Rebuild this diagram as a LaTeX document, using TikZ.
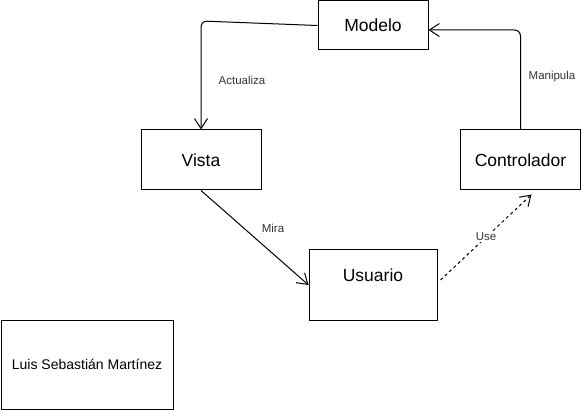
\documentclass[tikz,border=0pt]{standalone}
\usepackage{fontspec}
\setmainfont{Liberation Sans}
\usetikzlibrary{arrows.meta}

\tikzset{
  caja/.style={draw, line width=1pt, inner sep=0pt, font=\fontsize{17.5}{20}\selectfont},
  etiqueta/.style={font=\fontsize{11.5}{14}\selectfont, text=black!80, inner sep=1pt},
  flecha/.style={line width=1pt, rounded corners=6pt, -{Straight Barb[length=10pt,width=13pt]}},
}

\begin{document}
\begin{tikzpicture}[x=1pt,y=-1pt]
\useasboundingbox (0,0) rectangle (588,411);
\node[caja, minimum width=110pt, minimum height=49pt] (modelo) at (373,25.5) {Modelo};
\node[caja, minimum width=120pt, minimum height=60pt] (vista) at (201,160) {Vista};
\node[caja, minimum width=120pt, minimum height=60pt] (controlador) at (520.5,160) {Controlador};
\node[caja, minimum width=128pt, minimum height=70pt, text depth=20pt] (usuario) at (373,285) {Usuario};
\node[caja, minimum width=172pt, minimum height=89pt, font=\fontsize{14}{17}\selectfont] (autor) at (87,364.5) {Luis Sebastián Martínez};
\coordinate (esq1) at (201,21) ;
\coordinate (esq2) at (520.5,30) ;
\draw[flecha] (modelo.west) -- (esq1) -- (vista.north) ;
\node[etiqueta] (lactualiza) at (242,80) {Actualiza} ;
\draw[flecha] (controlador.north) -- (esq2) -- (modelo.east |- esq2) ;
\node[etiqueta] (lmanipula) at (552,77) {Manipula} ;
\draw[flecha] (vista.south) -- (usuario.west) ;
\node[etiqueta] (lmira) at (273,228) {Mira} ;
\draw[flecha, dash pattern=on 3pt off 3pt] ([xshift=3pt,yshift=5pt]usuario.east) -- ([xshift=11pt,yshift=-4pt]controlador.south) ;
\node[etiqueta, fill=white] (luse) at (486,237) {Use} ;
\end{tikzpicture}
\end{document}
